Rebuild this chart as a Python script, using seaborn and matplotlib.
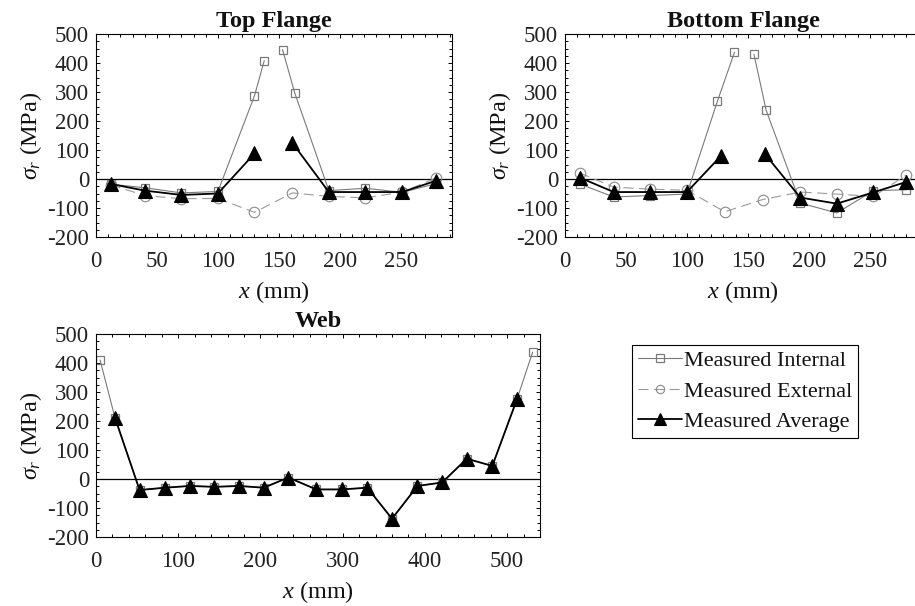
import numpy as np
import pandas as pd
import matplotlib
matplotlib.use("Agg")
import matplotlib.pyplot as plt
from matplotlib.lines import Line2D
from matplotlib.ticker import MultipleLocator
import seaborn as sns

# ---------------- data (x in mm, residual stress in MPa) ----------------
# Top flange
top_int_x = [12, 40, 70, 100, 130, 138, 145, 153, 163, 191, 221, 251, 279]
top_int_y = [-18, -30, -48, -43, 287, 408, np.nan, 446, 297, -40, -32, -46, -16]
top_ext_x = [12, 40, 70, 100, 130, 161, 191, 221, 251, 279]
top_ext_y = [-20, -57, -68, -67, -115, -48, -60, -65, -45, 3]
top_avg_x = [12, 40, 70, 100, 130, 146, 161, 191, 221, 251, 279]
top_avg_y = [-17, -40, -55, -50, 88, np.nan, 125, -45, -45, -45, -6]

# Bottom flange
bot_int_x = [12, 40, 70, 100, 125, 139, 147, 155, 165, 193, 223, 253, 280]
bot_int_y = [-17, -62, -57, -52, 268, 437, np.nan, 430, 237, -83, -117, -40, -37]
bot_ext_x = [12, 40, 70, 100, 131, 162, 193, 223, 253, 280]
bot_ext_y = [21, -28, -35, -39, -113, -71, -45, -52, -60, 14]
bot_avg_x = [12, 40, 70, 100, 128, 146, 164, 193, 223, 253, 280]
bot_avg_y = [5, -45, -45, -45, 80, np.nan, 86, -64, -85, -46, -10]

# Web
web_avg_x = [23, 53, 84, 114, 144, 174, 204, 234, 268, 299, 330, 360,
             391, 421, 451, 482, 512]
web_avg_y = [212, -38, -30, -24, -27, -24, -30, 5, -36, -36, -30, -137,
             -24, -12, 70, 45, 275]
web_int_x = [5] + web_avg_x + [531]
web_int_y = [410] + web_avg_y + [437]

series_labels = ["Measured Internal", "Measured External", "Measured Average"]

# ---------------- styling ----------------
sns.set_theme(style="ticks")
plt.rcParams["font.family"] = ["Liberation Serif", "DejaVu Serif"]
plt.rcParams["mathtext.fontset"] = "custom"
plt.rcParams["mathtext.rm"] = "Liberation Serif"
plt.rcParams["mathtext.it"] = "Liberation Serif:italic"
plt.rcParams["axes.unicode_minus"] = False
plt.rcParams["axes.linewidth"] = 0.8
plt.rcParams["axes.edgecolor"] = "black"
plt.rcParams["text.color"] = "#111111"
plt.rcParams["axes.labelcolor"] = "#111111"
plt.rcParams["xtick.color"] = "black"
plt.rcParams["ytick.color"] = "black"
plt.rcParams["xtick.labelcolor"] = "#222222"
plt.rcParams["ytick.labelcolor"] = "#222222"

TICK_FS = 16.5
LABEL_FS = 17.5
TITLE_FS = 17.5

style_int = dict(color="#7a7a7a", linewidth=0.8, linestyle="-", marker="s",
                 markersize=5.8, markerfacecolor="none",
                 markeredgecolor="#7a7a7a", markeredgewidth=0.9)
style_ext = dict(color="#9a9a9a", linewidth=0.8, linestyle=(0, (9, 5)), marker="o",
                 markersize=7.6, markerfacecolor="none",
                 markeredgecolor="#8a8a8a", markeredgewidth=0.8)
style_avg = dict(color="black", linewidth=1.3, linestyle="-", marker="^",
                 markersize=10, markerfacecolor="black",
                 markeredgecolor="black", markeredgewidth=0.8)


def draw_series(ax, x, y, style):
    """Draw a series as connected segments; NaN values split the line."""
    df = pd.DataFrame({"x": x, "y": y})
    df["seg"] = df["y"].isna().cumsum()
    df = df.dropna()
    sns.lineplot(data=df, x="x", y="y", units="seg", estimator=None,
                 sort=False, legend=False, ax=ax, **style)


def format_axes(ax, title, xmax, xmajor, xminor):
    ax.axhline(0, color="black", linewidth=0.9, zorder=1)
    ax.set_xlim(0, xmax)
    ax.set_ylim(-200, 500)
    ax.xaxis.set_major_locator(MultipleLocator(xmajor))
    ax.xaxis.set_minor_locator(MultipleLocator(xminor))
    ax.yaxis.set_major_locator(MultipleLocator(100))
    ax.yaxis.set_minor_locator(MultipleLocator(25))
    ax.tick_params(which="both", direction="in", top=True, right=True,
                   labelsize=TICK_FS, width=0.7)
    ax.tick_params(which="major", length=3.0, pad=5)
    ax.tick_params(axis="x", which="major", pad=10)
    ax.tick_params(which="minor", length=2.2)
    ax.set_title(title, fontsize=TITLE_FS, fontweight="bold", pad=5)
    ax.set_xlabel(r"$x$ (mm)", fontsize=LABEL_FS, labelpad=5)
    ax.set_ylabel(r"$\sigma_r$ (MPa)", fontsize=LABEL_FS, labelpad=2)
    for s in ax.spines.values():
        s.set_visible(True)
        s.set_color("black")
    ax.set_facecolor("white")


W, H = 915, 606
fig = plt.figure(figsize=(W / 100, H / 100), dpi=100)
fig.patch.set_facecolor("white")


def px_axes(left, top, right, bottom):
    return fig.add_axes([left / W, 1 - bottom / H, (right - left) / W, (bottom - top) / H])


ax_top = px_axes(96, 34, 452, 237)
ax_bot = px_axes(565, 34, 921, 237)
ax_web = px_axes(96, 334, 540, 537)

draw_series(ax_top, top_int_x, top_int_y, style_int)
draw_series(ax_top, top_ext_x, top_ext_y, style_ext)
draw_series(ax_top, top_avg_x, top_avg_y, style_avg)
format_axes(ax_top, "Top Flange", 292, 50, 10)

draw_series(ax_bot, bot_int_x, bot_int_y, style_int)
draw_series(ax_bot, bot_ext_x, bot_ext_y, style_ext)
draw_series(ax_bot, bot_avg_x, bot_avg_y, style_avg)
format_axes(ax_bot, "Bottom Flange", 292, 50, 10)

draw_series(ax_web, web_int_x, web_int_y, style_int)
draw_series(ax_web, web_avg_x, web_avg_y, style_avg)
format_axes(ax_web, "Web", 540, 100, 20)

handles = [Line2D([], [], **style_int), Line2D([], [], **style_ext),
           Line2D([], [], **style_avg)]
handles[1].set_markersize(6.0)
handles[2].set_markersize(8.5)
leg = fig.legend(handles, series_labels, loc="upper left",
                 bbox_to_anchor=(632 / W, 1 - 345 / H), fontsize=16,
                 frameon=True, fancybox=False, framealpha=1, edgecolor="black",
                 borderpad=0.25, borderaxespad=0, handlelength=2.0,
                 handletextpad=0.1, labelspacing=0.45)
leg.get_frame().set_linewidth(0.8)

fig.savefig("out.png", dpi=100, facecolor="white")
